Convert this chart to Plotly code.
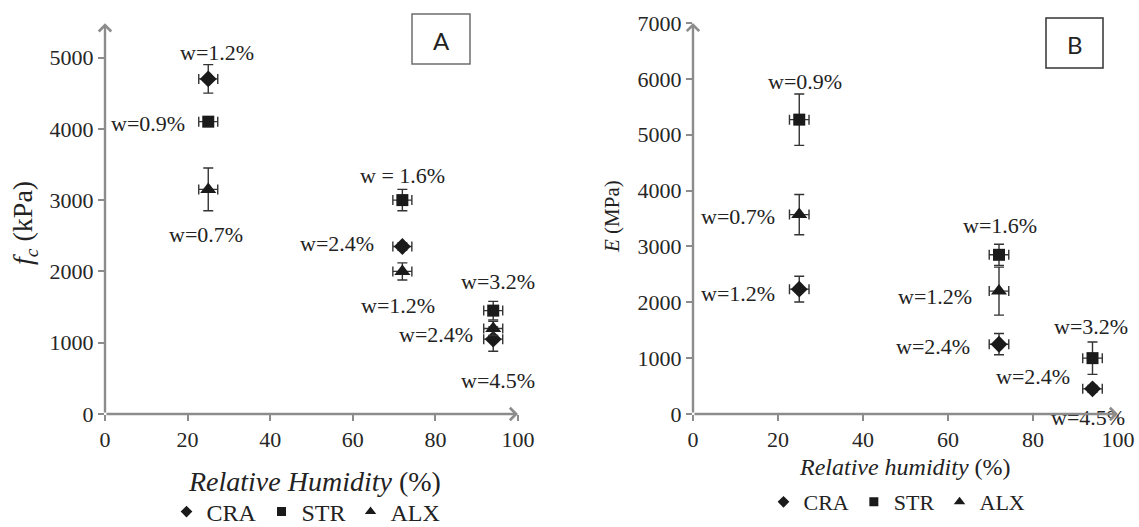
import plotly.graph_objects as go

# ---------------- data ----------------
SERIES = ["CRA", "STR", "ALX"]

# Panel A : compressive strength f_c (kPa)
RH_A = [25, 72, 94]
RH_A_ERR = [2.3, 2.3, 2.3]
CRA_A = [4700, 2350, 1050]
CRA_A_ERR = [200, 50, 170]
STR_A = [4100, 3000, 1450]
STR_A_ERR = [50, 150, 130]
ALX_A = [3150, 2000, 1200]
ALX_A_ERR = [300, 120, 100]
CRA_A_W = ["w=1.2%", "w=2.4%", "w=2.4%"]
STR_A_W = ["w=0.9%", "w = 1.6%", "w=3.2%"]
ALX_A_W = ["w=0.7%", "w=1.2%", "w=4.5%"]

# Panel B : Young's modulus E (MPa)
RH_B = [25, 72, 94]
RH_B_ERR = [2.3, 2.3, 2.3]
CRA_B = [2235, 1250, 450]
CRA_B_ERR = [230, 190, 60]
STR_B = [5270, 2850, 1000]
STR_B_ERR = [460, 190, 290]
RH_B_ALX = [25, 72]
RH_B_ALX_ERR = [2.3, 2.3]
ALX_B = [3570, 2200]
ALX_B_ERR = [360, 430]
CRA_B_W = ["w=1.2%", "w=2.4%", "w=2.4%"]
STR_B_W = ["w=0.9%", "w=1.6%", "w=3.2%"]
ALX_B_W = ["w=0.7%", "w=1.2%"]
EXTRA_B_W = "w=4.5%"   # ALX at 94 % RH (point not shown)

X_TICKS = [0, 20, 40, 60, 80, 100]
Y_TICKS_A = [0, 1000, 2000, 3000, 4000, 5000]
Y_TICKS_B = [0, 1000, 2000, 3000, 4000, 5000, 6000, 7000]

# ---------------- layout helpers ----------------
W, H = 1139, 527
SERIF = "Liberation Serif"
SANS = "Lato"
AX_GRAY = "#8c8c8c"
INK = "#1a1a1a"
TXT = "#222222"
SYMBOLS = {"CRA": "diamond", "STR": "square", "ALX": "triangle-up"}
MSIZE = {"CRA": 13, "STR": 12, "ALX": 14}
LSIZE = {"CRA": 9, "STR": 9, "ALX": 10}


def fx(px):
    return px / W


def fy(px):
    return (H - px) / H


A_Y_MAX = 5500
B_Y_MAX = 7000

fig = go.Figure()


def add_series(name, x, xe, y, ye, xa, ya):
    fig.add_trace(go.Scatter(
        x=x, y=y, mode="markers", name=name, showlegend=False,
        xaxis=xa, yaxis=ya,
        marker=dict(symbol=SYMBOLS[name], size=MSIZE[name], color=INK,
                    line=dict(width=0)),
        error_y=dict(type="data", array=ye, color="#333333", thickness=1.4, width=5),
        error_x=dict(type="data", array=xe, color="#333333", thickness=1.4, width=5),
        cliponaxis=False,
    ))


add_series("CRA", RH_A, RH_A_ERR, CRA_A, CRA_A_ERR, "x", "y")
add_series("STR", RH_A, RH_A_ERR, STR_A, STR_A_ERR, "x", "y")
add_series("ALX", RH_A, RH_A_ERR, ALX_A, ALX_A_ERR, "x", "y")
add_series("CRA", RH_B, RH_B_ERR, CRA_B, CRA_B_ERR, "x2", "y2")
add_series("STR", RH_B, RH_B_ERR, STR_B, STR_B_ERR, "x2", "y2")
add_series("ALX", RH_B_ALX, RH_B_ALX_ERR, ALX_B, ALX_B_ERR, "x2", "y2")

# legend entries (smaller symbols as in the original)
for leg, xa, ya in (("legend", "x", "y"), ("legend2", "x2", "y2")):
    for name in SERIES:
        fig.add_trace(go.Scatter(
            x=[None], y=[None], mode="markers", name=name, legend=leg,
            xaxis=xa, yaxis=ya,
            marker=dict(symbol=SYMBOLS[name], size=LSIZE[name], color=INK),
        ))

annotations = []


def labels(x, y, texts, shifts, xref, yref):
    for xi, yi, t, (dx, dy) in zip(x, y, texts, shifts):
        annotations.append(dict(
            x=xi, y=yi, xref=xref, yref=yref, text=t, showarrow=False,
            xanchor="center", yanchor="middle",
            xshift=dx, yshift=dy, font=dict(family=SERIF, size=22, color=TXT),
        ))


labels(RH_A, CRA_A, CRA_A_W, [(9, 26), (-65, 3), (-57, 5)], "x", "y")
labels(RH_A, STR_A, STR_A_W, [(-60, -2), (0, 25), (5, 29)], "x", "y")
labels(RH_A, ALX_A, ALX_A_W, [(-2, -45), (-4, -34), (5, -52)], "x", "y")
labels(RH_B, CRA_B, CRA_B_W, [(-61, -4), (-66, -2), (-60, 12)], "x2", "y2")
labels(RH_B, STR_B, STR_B_W, [(6, 38), (1, 29), (-2, 32)], "x2", "y2")
labels(RH_B_ALX, ALX_B, ALX_B_W, [(-61, -2), (-64, -5)], "x2", "y2")
labels(RH_B[2:], CRA_B[2:], [EXTRA_B_W], [(-5, -29)], "x2", "y2")


# axis arrows
def arrow(x0, y0, x1, y1, xref, yref):
    annotations.append(dict(
        x=x1, y=y1, ax=x0, ay=y0, xref=xref, yref=yref, axref=xref, ayref=yref,
        text="", showarrow=True, arrowhead=4, arrowsize=1.0, arrowwidth=2.4,
        arrowcolor=AX_GRAY, standoff=0, startstandoff=0,
    ))


arrow(0, 0, 100, 0, "x", "y")
arrow(0, 0, 0, 5480, "x", "y")
arrow(0, 0, 100, 0, "x2", "y2")
arrow(0, 0, 0, 7000, "x2", "y2")


def ptext(px, py, text, family, size, angle=0):
    annotations.append(dict(
        x=fx(px), y=fy(py), xref="paper", yref="paper", showarrow=False,
        xanchor="center", yanchor="middle", textangle=angle,
        text=text, font=dict(family=family, size=size, color=TXT),
    ))


# axis titles and panel tags
ptext(314, 481, "<i>Relative Humidity</i> (%)", SERIF, 28)
ptext(25, 223, "<i>f<sub>c</sub></i> (kPa)", SERIF, 28, -90)
ptext(905, 467, "<i>Relative humidity</i> (%)", SERIF, 24)
ptext(612, 217, "<i>E</i> (MPa)", SERIF, 21, -90)
ptext(441, 40, "A", SANS, 24)
ptext(1075, 44, "B", SANS, 24)

shapes = [
    dict(type="rect", xref="paper", yref="paper", x0=fx(412), x1=fx(470), y0=fy(64), y1=fy(14),
         line=dict(color="#6e6e6e", width=1.5)),
    dict(type="rect", xref="paper", yref="paper", x0=fx(1046), x1=fx(1103), y0=fy(68), y1=fy(18),
         line=dict(color="#333333", width=1.5)),
]

tickfont = dict(family=SERIF, size=22, color="#262626")
common_x = dict(range=[0, 100], tickvals=X_TICKS, ticks="outside", ticklen=6, tickwidth=2,
                tickcolor=AX_GRAY, showgrid=False, zeroline=False, showline=False,
                tickfont=tickfont, fixedrange=True, automargin=False)
common_y = dict(ticks="outside", ticklen=6, tickwidth=2, tickcolor=AX_GRAY, showgrid=False,
                zeroline=False, showline=False, tickfont=tickfont, fixedrange=True,
                automargin=False)

fig.update_layout(
    template="none",
    width=W, height=H, margin=dict(l=0, r=0, t=0, b=0, autoexpand=False),
    paper_bgcolor="white", plot_bgcolor="white",
    font=dict(family=SERIF, color=TXT),
    xaxis=dict(domain=[fx(105), fx(518)], anchor="y", **common_x),
    yaxis=dict(domain=[fy(414), fy(414 - A_Y_MAX * 0.0713)], range=[0, A_Y_MAX],
               tickvals=Y_TICKS_A, anchor="x", **common_y),
    xaxis2=dict(domain=[fx(693), fx(1118)], anchor="y2", **common_x),
    yaxis2=dict(domain=[fy(414), fy(23)], range=[0, B_Y_MAX], tickvals=Y_TICKS_B,
                anchor="x2", **common_y),
    legend=dict(orientation="h", x=fx(306), xanchor="center", y=fy(512), yanchor="middle",
                font=dict(family=SERIF, size=24, color=TXT), bgcolor="rgba(0,0,0,0)",
                itemclick=False, itemdoubleclick=False),
    legend2=dict(orientation="h", x=fx(897), xanchor="center", y=fy(502), yanchor="middle",
                 font=dict(family=SERIF, size=22, color=TXT), bgcolor="rgba(0,0,0,0)",
                 itemclick=False, itemdoubleclick=False),
    annotations=annotations,
    shapes=shapes,
)

fig.write_html(
    "out.html",
    config={"displayModeBar": False},
    post_script="document.body.style.margin='0px';document.body.style.overflow='hidden';",
)
